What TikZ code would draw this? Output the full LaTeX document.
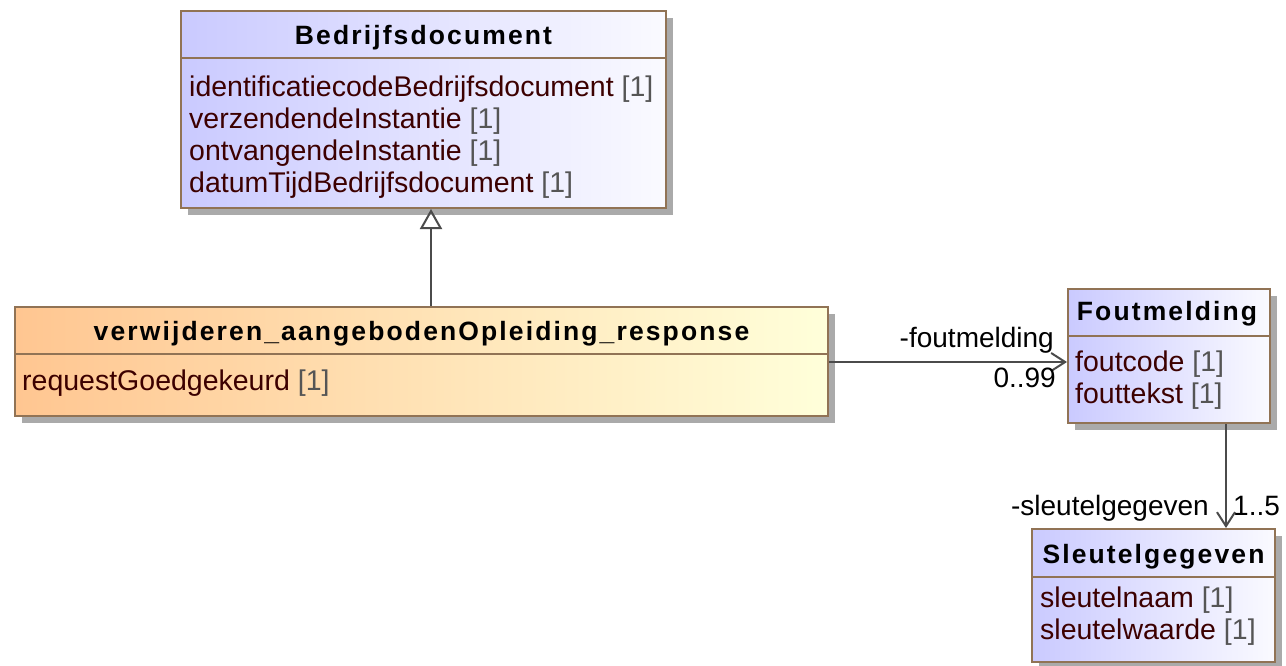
\documentclass[tikz,border=0pt]{standalone}
\usepackage{fontspec}
\setmainfont{Liberation Sans}
\newfontfamily\titlefont[LetterSpace=8]{Liberation Sans}
\usetikzlibrary{shadows,arrows.meta}
\definecolor{bord}{RGB}{145,115,85}
\definecolor{blueL}{RGB}{202,202,255}
\definecolor{blueR}{RGB}{250,250,255}
\definecolor{orL}{RGB}{255,198,145}
\definecolor{orR}{RGB}{255,255,218}
\definecolor{attr}{RGB}{60,0,0}
\definecolor{mult}{RGB}{85,85,85}
\definecolor{shad}{RGB}{170,170,170}
\definecolor{conncol}{RGB}{75,75,75}
\tikzset{
  cls/.style={draw=bord, line width=2pt, rectangle, inner sep=0pt,
    drop shadow={shadow xshift=7pt, shadow yshift=-7pt, fill=shad, opacity=1}},
  bluecls/.style={cls, left color=blueL, right color=blueR},
  orcls/.style={cls, left color=orL, right color=orR},
  sep/.style={draw=bord, line width=2pt},
  ttl/.style={font=\fontsize{26.5}{30}\selectfont\titlefont\bfseries, inner sep=0pt, anchor=base},
  att/.style={font=\fontsize{28.5}{32}\selectfont, text=attr, anchor=base west, inner sep=0pt},
  lbl/.style={font=\fontsize{28}{32}\selectfont, text=black, inner sep=0pt},
  conn/.style={draw=conncol, line width=2pt},
  gen/.style={conn, -{Triangle[open, length=20pt, width=22pt, line width=2pt]}},
  nav/.style={conn, -{Straight Barb[length=14pt, width=18pt, line width=2pt]}},
}
\newcommand{\mlt}[1]{{\color{mult}[#1]}}
\begin{document}
\begin{tikzpicture}[x=1pt,y=-1pt]
\useasboundingbox (0,0) rectangle (1286,666);
% classes
\node[bluecls, minimum width=485pt, minimum height=197pt] (bd) at (423.5,109.5) {};
\draw[sep] (bd.west |- 0,58) -- (bd.east |- 0,58);
\node[ttl] (bdt) at (423.5,45) {Bedrijfsdocument};
\node[att] (bda1) at (189,97) {identificatiecodeBedrijfsdocument \mlt{1}};
\node[att] (bda2) at (189,129) {verzendendeInstantie \mlt{1}};
\node[att] (bda3) at (189,161) {ontvangendeInstantie \mlt{1}};
\node[att] (bda4) at (189,193) {datumTijdBedrijfsdocument \mlt{1}};

\node[orcls, minimum width=813pt, minimum height=109pt] (vr) at (421.5,361.5) {};
\draw[sep] (vr.west |- 0,354) -- (vr.east |- 0,354);
\node[ttl] (vrt) at (421.5,340) {verwijderen\_aangebodenOpleiding\_response};
\node[att] (vra1) at (22,390) {requestGoedgekeurd \mlt{1}};

\node[bluecls, minimum width=202pt, minimum height=134pt] (fm) at (1169,356) {};
\draw[sep] (fm.west |- 0,336) -- (fm.east |- 0,336);
\node[ttl] (fmt) at (1167,320) {Foutmelding};
\node[att] (fma1) at (1075,371) {foutcode \mlt{1}};
\node[att] (fma2) at (1075,403) {fouttekst \mlt{1}};

\node[bluecls, minimum width=243pt, minimum height=133pt] (sg) at (1153.5,595.5) {};
\draw[sep] (sg.west |- 0,577) -- (sg.east |- 0,577);
\node[ttl] (sgt) at (1153.5,563) {Sleutelgegeven};
\node[att] (sga1) at (1040,607) {sleutelnaam \mlt{1}};
\node[att] (sga2) at (1040,639) {sleutelwaarde \mlt{1}};

% connectors
\coordinate (gx) at (431,0);
\draw[gen] (vr.north -| gx) -- (bd.south -| gx);
\coordinate (ay) at (0,362);
\draw[nav] (vr.east |- ay) -- (fm.west |- ay);
\coordinate (vx) at (1226,0);
\draw[nav] (fm.south -| vx) -- (sg.north -| vx);

% labels
\node[lbl, anchor=base east] (l1) at (1054,347) {-foutmelding};
\node[lbl, anchor=base east] (l2) at (1056,387) {0..99};
\node[lbl, anchor=base east] (l3) at (1209,515) {-sleutelgegeven};
\node[lbl, anchor=base west] (l4) at (1233,515) {1..5};
\end{tikzpicture}
\end{document}
